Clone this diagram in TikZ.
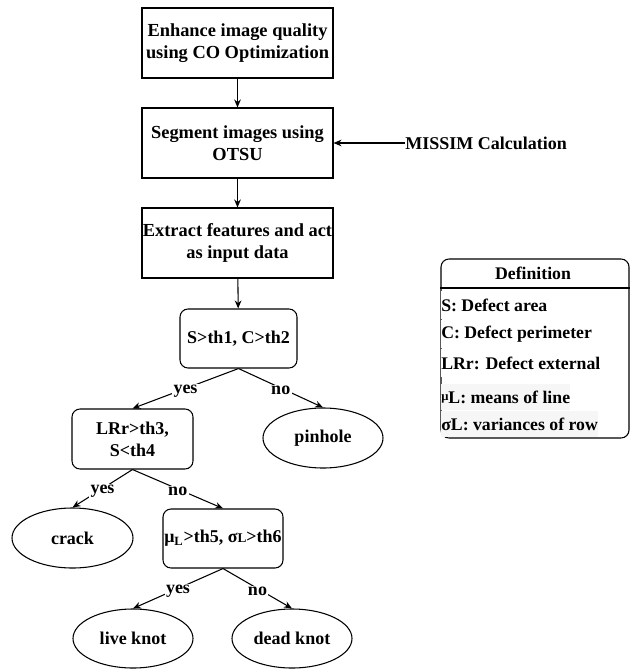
\documentclass[tikz,border=0pt]{standalone}
\usepackage{fontspec}
\setmainfont{Liberation Serif}
\usetikzlibrary{shapes.geometric,arrows.meta}
\begin{document}
\begin{tikzpicture}[x=0.75pt,y=-0.75pt,
  every node/.style={font=\fontsize{13.5}{16.5}\selectfont\bfseries, inner sep=0pt},
  procbox/.style={draw, line width=0.8pt, minimum width=143.25pt, minimum height=52.5pt, align=center,
    font=\fontsize{13.8}{16.5}\selectfont\bfseries},
  testbox/.style={draw, rounded corners=6pt, line width=0.8pt, align=center},
  leaf/.style={draw, ellipse, line width=0.8pt, minimum width=90pt, minimum height=45pt},
  flow/.style={draw, line width=0.8pt, -{Stealth[length=6pt,width=5pt]}},
  branch/.style={fill=white, inner sep=1pt, pos=0.5, yshift=-2pt},
  deftext/.style={font=\fontsize{13.3}{16}\selectfont\bfseries},
  defrow/.style={deftext, anchor=west, fill=white, inner sep=0pt, minimum height=21pt},
  shaderow/.style={deftext, anchor=west, fill=gray!7, inner sep=0pt, minimum height=19.5pt}
]
\useasboundingbox (0,0) rectangle (630,670);

% main processing chain
\node[procbox] (enh) at (237.5,43) {Enhance image quality\\using CO Optimization};
\node[procbox] (seg) at (237.5,143) {Segment images using\\OTSU};
\node[procbox] (ext) at (237.5,243) {Extract features and act\\as input data};
\node[anchor=west] (mis) at (405,143) {MISSIM Calculation};

% decision tree
\node[testbox, minimum width=87.75pt, minimum height=44.25pt] (t1) at (238.5,338.5) {S>th1, C>th2};
\node[testbox, minimum width=90.75pt, minimum height=45pt] (t2) at (132.5,439) {LRr>th3,\\S<th4};
\node[testbox, minimum width=90pt, minimum height=44.25pt] (t3) at (223,538.5)
  {μ\textsubscript{L}>th5, σ{\fontsize{10}{10}\selectfont L}>th6};

\node[leaf] (pin) at (323,438) {pinhole};
\node[leaf, minimum width=90.75pt] (crk) at (72.5,538) {crack};
\node[leaf, minimum height=44.25pt] (live) at (133,638.5) {live knot};
\node[leaf, minimum height=44.25pt] (dead) at (292,638.5) {dead knot};

\draw[flow] (enh) -- (seg);
\draw[flow] (seg) -- (ext);
\draw[flow] (ext) -- (t1);
\draw[flow] (mis.west) -- (seg.east);

\draw[flow] (t1.south) -- node[branch] {yes} (t2.north);
\draw[flow] (t1.south) -- node[branch] {no} (pin.north);
\draw[flow] (t2.south) -- node[branch] {yes} (crk.north);
\draw[flow] (t2.south) -- node[branch] {no} (t3.north);
\draw[flow] (t3.south) -- node[branch] {yes} (live.north);
\draw[flow] (t3.south) -- node[branch] {no} (dead.north);

% definition panel
\node[draw, line width=0.8pt, rounded corners=6pt, minimum width=141pt, minimum height=134.25pt] (defbox) at (535,348.5) {};
\node[deftext] (deftitle) at (533,273) {Definition};
\coordinate (sepline) at (0,288);
\draw[line width=0.8pt] (defbox.west |- sepline) -- (defbox.east |- sepline);

\node[defrow] (dS) at (441,305) {S: Defect area};
\node[defrow] (dC) at (441,334) {C: Defect perimeter};
\node[defrow] (dL) at (441,363) {LRr: Defect external};
\node[shaderow] (dmu) at (441,397)
  {\raisebox{.35ex}{\fontsize{9.5}{9.5}\selectfont μ}L: means of line};
\node[shaderow] (dsig) at (441,424) {σL: variances of row};
\end{tikzpicture}
\end{document}
